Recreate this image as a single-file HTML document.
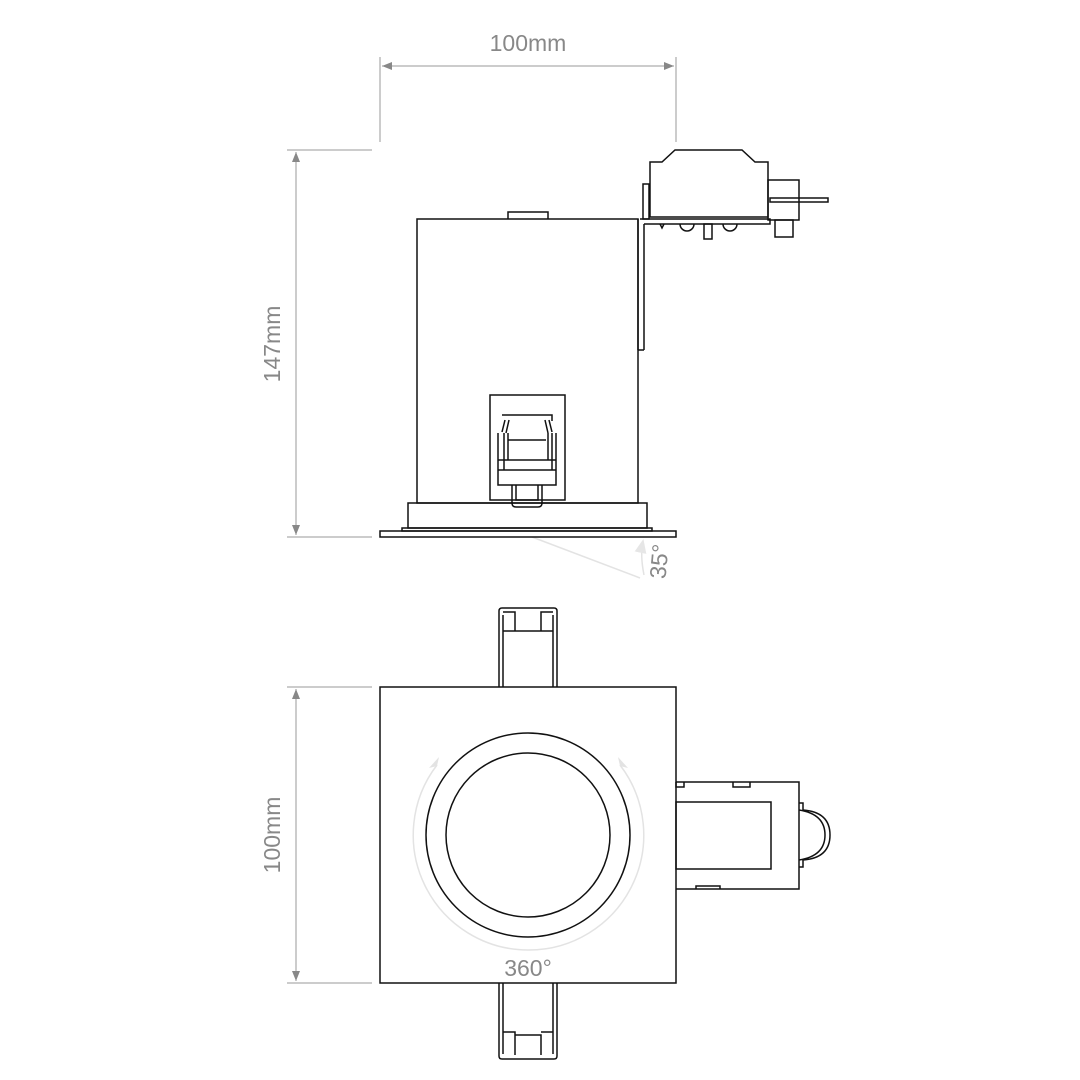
<!DOCTYPE html>
<html><head><style>body{margin:0;background:#fff}svg{display:block}text{font-family:"Liberation Sans",sans-serif;fill:#888;font-weight:300}</style></head><body>
<svg width="1080" height="1080" viewBox="0 0 1080 1080" xmlns="http://www.w3.org/2000/svg">
<defs>
<marker id="a" markerWidth="10" markerHeight="8" refX="10" refY="4" orient="auto-start-reverse" markerUnits="userSpaceOnUse"><path d="M0,0 L10,4 L0,8 Z" fill="#888"/></marker>
<marker id="g" markerWidth="14" markerHeight="12" refX="12" refY="6" orient="auto" markerUnits="userSpaceOnUse"><path d="M0,0 L14,6 L0,12 Z" fill="#e6e6e6"/></marker>
</defs>
<g stroke="#999" stroke-width="1" fill="none">
<line x1="380" y1="57" x2="380" y2="142"/><line x1="676" y1="57" x2="676" y2="142"/>
<line x1="382" y1="66" x2="674" y2="66" marker-start="url(#a)" marker-end="url(#a)"/>
<line x1="287" y1="150" x2="372" y2="150"/><line x1="287" y1="537" x2="372" y2="537"/>
<line x1="296" y1="152" x2="296" y2="535" marker-start="url(#a)" marker-end="url(#a)"/>
<line x1="287" y1="687" x2="372" y2="687"/><line x1="287" y1="983" x2="372" y2="983"/>
<line x1="296" y1="689" x2="296" y2="981" marker-start="url(#a)" marker-end="url(#a)"/>
</g>
<text x="528" y="51" font-size="23" text-anchor="middle">100mm</text>
<text transform="translate(280,344) rotate(-90)" font-size="23" text-anchor="middle">147mm</text>
<text transform="translate(280,835) rotate(-90)" font-size="23" text-anchor="middle">100mm</text>
<text x="528" y="976" font-size="23" text-anchor="middle">360°</text>
<text transform="translate(667,562) rotate(-85)" font-size="23" text-anchor="middle">35°</text>
<g stroke="#e3e3e3" stroke-width="1.5" fill="none">
<line x1="532" y1="537" x2="640" y2="578"/>
<path d="M644,575 Q640,555 643,541" marker-end="url(#g)"/>
<path d="M437,765 A115,115 0 0 0 528,950 A115,115 0 0 0 620,765" />
</g>
<path d="M437,766 l-8,2 l10,-11 z M620,766 l8,2 l-10,-11 z" fill="#e3e3e3"/>
<g stroke="#111" stroke-width="1.5" fill="none">
<rect x="417" y="219" width="221" height="284"/>
<path d="M508,219 V212 H548 V219"/>
<rect x="408" y="503" width="239" height="25"/>
<rect x="402" y="528" width="250" height="3"/>
<rect x="380" y="531" width="296" height="6"/>
<rect x="490" y="395" width="75" height="105"/>
<path d="M502,415 H552 V421"/>
<path d="M498,433 V485 H556 V433 M498,460 H556 M498,470 H556 M508,440 H546"/>
<path d="M502,432 L505,420 M506,433 L509,420 M548,433 L545,420 M552,432 L549,420 M504,433 V470 M552,433 V470 M508,433 V460 M548,433 V460"/>
<path d="M512,485 V503 Q512,507 516,507 H538 Q542,507 542,503 V485 M516,485 V500 H538 V485"/>
<path d="M638,219 V350 M644,224 V350 M638,350 H644"/>
<path d="M650,162 H662 L675,150 H742 L755,162 H768 V217 H650 Z"/>
<path d="M643,184 H649 V219 H643 Z"/>
<path d="M640,219 H770 V224 H644"/>
<rect x="768" y="180" width="31" height="40"/>
<path d="M770,198 H828 V202 H770 Z"/>
<rect x="775" y="220" width="18" height="17"/>
<path d="M680,224 A7,7 0 0 0 694,224 M723,224 A7,7 0 0 0 737,224 M660,224 L662,228 L664,224"/>
<rect x="704" y="224" width="8" height="15"/>
<rect x="380" y="687" width="296" height="296"/>
<circle cx="528" cy="835" r="102"/>
<circle cx="528" cy="835" r="82"/>
<path d="M499,687 V611 Q499,608 502,608 H554 Q557,608 557,611 V687 M503,687 V615 M553,687 V615 M503,612 H515 V631 H541 V612 H553 M503,631 H515 M541,631 H553"/>
<path d="M499,983 V1056 Q499,1059 502,1059 H554 Q557,1059 557,1056 V983 M503,983 V1054 M553,983 V1054 M503,1032 H515 V1055 M515,1035 H541 V1055 M541,1032 H553"/>
<path d="M676,782 H799 V889 H676"/>
<rect x="676" y="802" width="95" height="67"/>
<path d="M676,782 V787 H684 V782 M733,782 V787 H750 V782 M696,889 V886 H720 V889"/>
<path d="M799,803 H803 V810 Q830,812 830,835 Q830,858 803,860 V867 H799 M799,810 Q825,814 825,835 Q825,856 799,860"/>
</g>
</svg>
</body></html>
